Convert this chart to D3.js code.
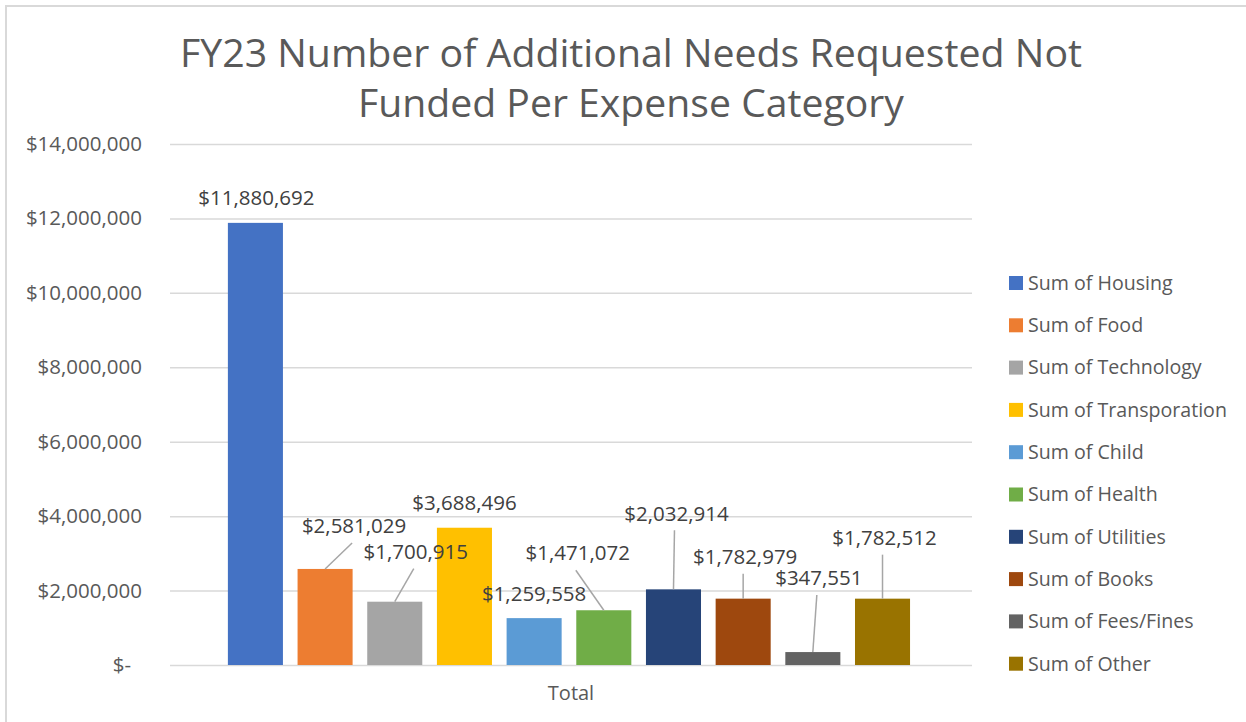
<!DOCTYPE html>
<html>
<head>
<meta charset="utf-8">
<script src="https://cdn.jsdelivr.net/npm/d3@7"></script>
<style>
    body { margin: 0; background: #fff; }
    svg text { font-family: "Open Sans", "Liberation Sans", sans-serif; }
</style>
</head>
<body>
<div id="chart"></div>
<script>
// Chart data
const titleLines = ["FY23 Number of Additional Needs Requested Not", "Funded Per Expense Category"];
const categories = ["Housing", "Food", "Technology", "Transporation", "Child", "Health", "Utilities", "Books", "Fees/Fines", "Other"];
const values = [11880692, 2581029, 1700915, 3688496, 1259558, 1471072, 2032914, 1782979, 347551, 1782512];
const yTicks = [0, 2000000, 4000000, 6000000, 8000000, 10000000, 12000000, 14000000];
const xLabel = "Total";

// Excel office palette
const colors = ["#4472C4", "#ED7D31", "#A5A5A5", "#FFC000", "#5B9BD5", "#70AD47", "#264478", "#9E480E", "#636363", "#997300"];

// Where Excel dragged each data label, relative to the bar top (px)
const labelOffsets = [[1, -25], [29, -43], [21, -50], [0, -25], [0, -24], [-26, -57], [3, -76], [2, -42], [6, -74], [2, -61]];

const width = 1246;
const height = 722;
const plot = { left: 170, right: 972, top: 144, bottom: 665 };

const svg = d3.select("#chart")
    .append("svg")
    .attr("width", width)
    .attr("height", height);

// chart frame (only the left and top edges show in the screenshot)
svg.append("path")
    .attr("d", "M6,722V6H1246")
    .attr("fill", "none")
    .attr("stroke", "#d9d9d9")
    .attr("stroke-width", 2);

// Title
const titleWidths = [902, 546];
svg.selectAll("text.title")
    .data(titleLines)
    .enter()
    .append("text")
    .attr("class", "title")
    .attr("x", 631)
    .attr("y", (d, i) => 67 + i * 50)
    .attr("text-anchor", "middle")
    .attr("font-size", "39px")
    .attr("fill", "#595959")
    .attr("textLength", (d, i) => titleWidths[i])
    .attr("lengthAdjust", "spacingAndGlyphs")
    .text(d => d);

const x = d3.scaleBand()
    .domain(categories)
    .range([plot.left, plot.right])
    .paddingInner(0.21)
    .paddingOuter(0.86)
    .align(0.483);

const y = d3.scaleLinear()
    .domain([0, 14000000])
    .range([plot.bottom, plot.top]);

const money = d3.format("$,");

// Gridlines + y labels
const yAxis = d3.axisLeft(y)
    .tickValues(yTicks)
    .tickSize(-(plot.right - plot.left))
    .tickPadding(28)
    .tickFormat(d => d === 0 ? "$-" : money(d));

const gy = svg.append("g")
    .attr("transform", `translate(${plot.left},0)`)
    .call(yAxis);

gy.select(".domain").remove();
gy.selectAll(".tick line")
    .attr("stroke", "#d9d9d9")
    .attr("stroke-width", 1.5);
gy.selectAll(".tick text")
    .attr("font-size", "20.5px")
    .attr("fill", "#595959");
// "$-" sits a bit to the right in Excel's accounting format
gy.selectAll(".tick text")
    .filter(d => d === 0)
    .attr("dx", "-11");

// Bars
svg.selectAll("rect.bar")
    .data(values)
    .enter()
    .append("rect")
    .attr("class", "bar")
    .attr("x", (d, i) => x(categories[i]))
    .attr("y", d => y(d))
    .attr("width", x.bandwidth())
    .attr("height", d => y(0) - y(d))
    .attr("fill", (d, i) => colors[i]);

// Leader lines for labels that were moved away from their bar
const labelPos = values.map((v, i) => ({
    bx: x(categories[i]) + x.bandwidth() / 2,
    by: y(v),
    lx: x(categories[i]) + x.bandwidth() / 2 + labelOffsets[i][0],
    ly: y(v) + labelOffsets[i][1],
    value: v
}));

svg.selectAll("line.leader")
    .data(labelPos.filter(d => d.by - d.ly > 35))
    .enter()
    .append("line")
    .attr("class", "leader")
    .attr("x1", d => d.bx)
    .attr("y1", d => d.by)
    .attr("x2", d => d.lx - 2)
    .attr("y2", d => d.ly + 17)
    .attr("stroke", "#a6a6a6")
    .attr("stroke-width", 1.5);

svg.selectAll("text.value")
    .data(labelPos)
    .enter()
    .append("text")
    .attr("class", "value")
    .attr("x", d => d.lx)
    .attr("y", d => d.ly)
    .attr("dy", "0.35em")
    .attr("text-anchor", "middle")
    .attr("font-size", "20.5px")
    .attr("fill", "#404040")
    .text(d => money(d.value));

// Category axis label
svg.append("text")
    .attr("x", (plot.left + plot.right) / 2)
    .attr("y", 693)
    .attr("dy", "0.35em")
    .attr("text-anchor", "middle")
    .attr("font-size", "20px")
    .attr("fill", "#595959")
    .text(xLabel);

// Legend
const legend = svg.selectAll("g.legend")
    .data(categories)
    .enter()
    .append("g")
    .attr("class", "legend")
    .attr("transform", (d, i) => `translate(1009,${283 + i * 42.3})`);

legend.append("rect")
    .attr("x", 0)
    .attr("y", -7)
    .attr("width", 14)
    .attr("height", 14)
    .attr("fill", (d, i) => colors[i]);

legend.append("text")
    .attr("x", 19)
    .attr("dy", "0.35em")
    .attr("font-size", "19.6px")
    .attr("fill", "#595959")
    .text(d => "Sum of " + d);
</script>
</body>
</html>
